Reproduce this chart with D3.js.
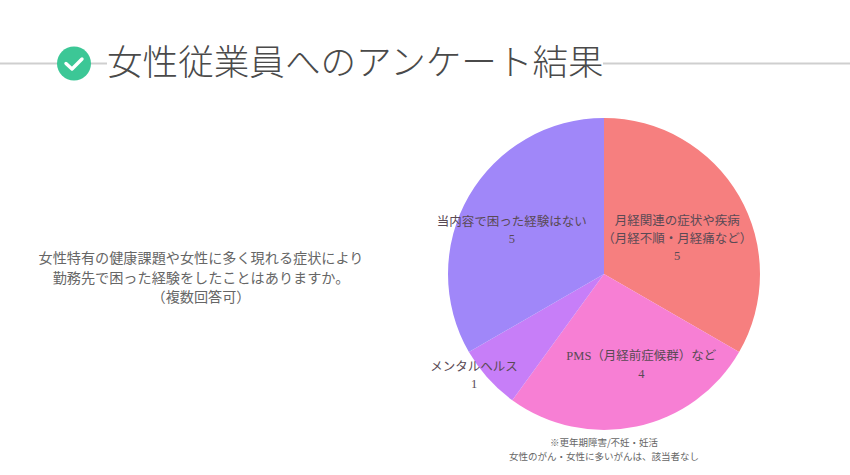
<!DOCTYPE html>
<html lang="ja"><head><meta charset="utf-8">
<script src="https://cdn.jsdelivr.net/npm/d3@7"></script>
<style>
html,body{margin:0;padding:0;background:#fff;overflow:hidden}
svg{display:block}
text{font-family:"Noto Sans CJK JP","Noto Sans",sans-serif}
.pl{font-family:"Liberation Serif","Noto Sans CJK JP",serif;font-size:12.5px;fill:#5a4a55;text-anchor:middle}
</style></head><body>
<svg id="c" width="850" height="475"></svg>
<script>
const titleText = "女性従業員へのアンケート結果";
const questionLines = ["女性特有の健康課題や女性に多く現れる症状により","勤務先で困った経験をしたことはありますか。","（複数回答可）"];
const noteLines = ["※更年期障害/不妊・妊活","女性のがん・女性に多いがんは、該当者なし"];
const categories = ["月経関連の症状や疾病（月経不順・月経痛など）","PMS（月経前症候群）など","メンタルヘルス","当内容で困った経験はない"];
const values = [5,4,1,5];
const colors = ["#f67f7f","#f77fd4","#c77ef8","#a087f9"];
const labelLines = [["月経関連の症状や疾病","（月経不順・月経痛など）","5"],["PMS（月経前症候群）など","4"],["メンタルヘルス","1"],["当内容で困った経験はない","5"]];

const svg = d3.select("#c");
svg.append("rect").attr("width",850).attr("height",475).attr("fill","#fff");
// title rules
svg.append("line").attr("x1",0).attr("x2",107).attr("y1",63.5).attr("y2",63.5).attr("stroke","#cfcfcf").attr("stroke-width",2);
svg.append("line").attr("x1",603).attr("x2",850).attr("y1",63.5).attr("y2",63.5).attr("stroke","#cfcfcf").attr("stroke-width",2);
// check badge
svg.append("circle").attr("cx",74).attr("cy",63.5).attr("r",17).attr("fill","#3cc796");
svg.append("path").attr("d",d3.line()([[66,63.5],[72,69],[82,59]])).attr("fill","none").attr("stroke","#fff").attr("stroke-width",3.4).attr("stroke-linecap","round").attr("stroke-linejoin","round");
// title
svg.append("text").attr("x",107).attr("y",75).attr("font-size",35.6).attr("font-weight",300).attr("fill","#4a4a4a").text(titleText);
// question
svg.selectAll(".q").data(questionLines).join("text").attr("class","q")
  .attr("x",201).attr("y",(d,i)=>263+i*19.7).attr("text-anchor","middle").attr("font-size",14.15).attr("fill","#666").text(d=>d);
// pie
const cx=604, cy=274, R=156;
const pie=d3.pie().sort(null).value(d=>d)(values);
const arc=d3.arc().innerRadius(0).outerRadius(R);
const g=svg.append("g").attr("transform",`translate(${cx},${cy})`);
g.selectAll("path").data(pie).join("path").attr("d",arc).attr("fill",(d,i)=>colors[i]);
// labels: centred on a radius fraction of each slice's mid-angle, then nudged
const labelR=[0.66,0.72,1.0,0.66];
const labelShift=[[-16,16],[14,-19],[-14,-3],[-3,8]];
const lh=17.5;
pie.forEach((p,i)=>{
  const a=(p.startAngle+p.endAngle)/2, r=R*labelR[i];
  const x=Math.sin(a)*r+labelShift[i][0], y=-Math.cos(a)*r+labelShift[i][1];
  const lines=labelLines[i];
  const y0=y-(lines.length-1)*lh/2+4;
  lines.forEach((t,j)=>{
    g.append("text").attr("class","pl").attr("x",x).attr("y",y0+j*lh).text(t);
  });
});
// note
svg.selectAll(".n").data(noteLines).join("text").attr("class","n")
  .attr("x",604).attr("y",(d,i)=>446+i*14).attr("text-anchor","middle").attr("font-size",9.5).attr("fill","#666").text(d=>d);
</script></body></html>
